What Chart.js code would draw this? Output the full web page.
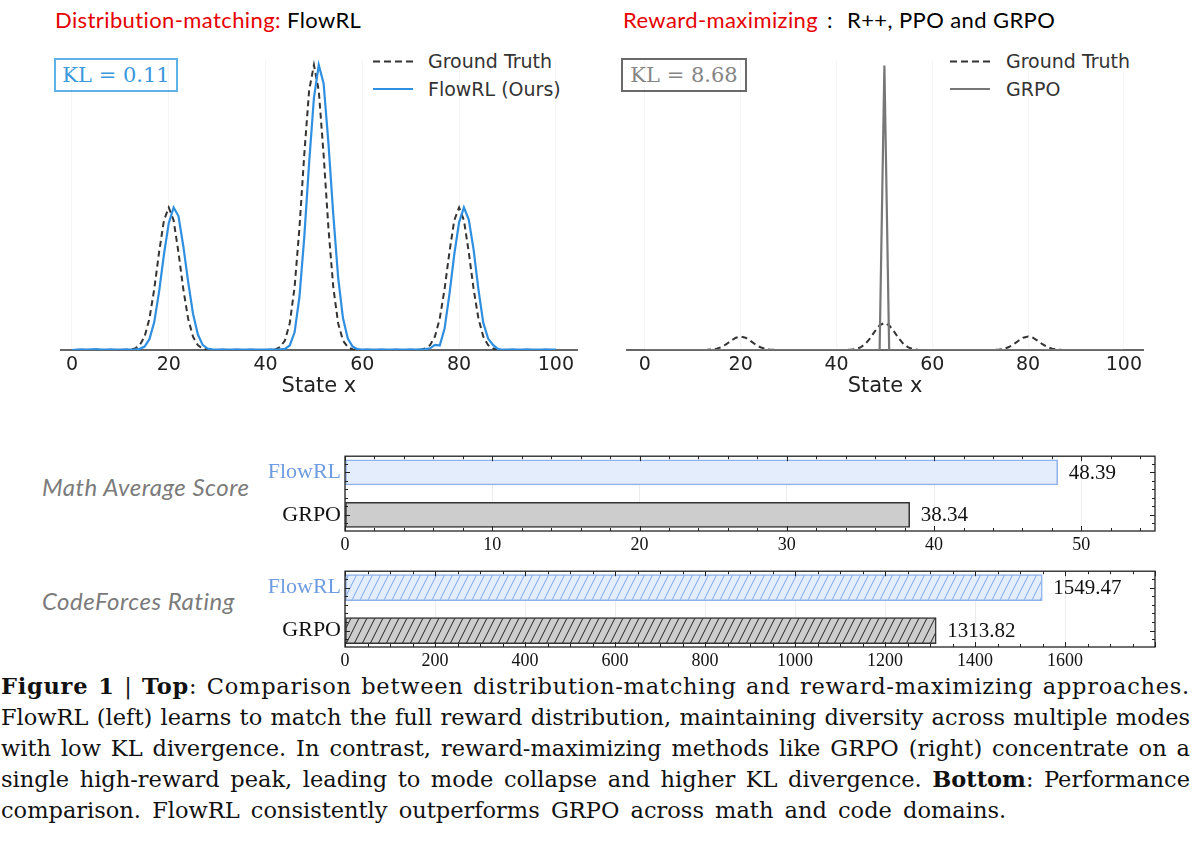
<!DOCTYPE html>
<html>
<head>
<meta charset="utf-8">
<script src="https://cdn.jsdelivr.net/npm/chart.js@4.4.1/dist/chart.umd.min.js"></script>
<style>
  body { margin: 0; background: #fff; }
  #fig { position: relative; width: 1200px; height: 843px; overflow: hidden; background: #fff; }
  #fig canvas, .abs { position: absolute; }
  .title { font-family: Lato, 'Open Sans', sans-serif; font-size: 22px; letter-spacing: 0.4px; white-space: nowrap; color: #000; }
  .red { color: #e60000; }
  .colon { margin: 0 14px 0 9px; }
  .kl { font-family: 'DejaVu Serif', serif; font-size: 21px; border: 2px solid; box-sizing: border-box;
        text-align: center; line-height: 30px; white-space: nowrap; }
  .leg { font-family: 'DejaVu Sans', sans-serif; font-size: 19px; line-height: 22px; color: #333; white-space: nowrap; }
  .side { font-family: Lato, sans-serif; font-style: italic; font-size: 24px; letter-spacing: 0.5px; line-height: 26px; color: #7b7b7b; white-space: nowrap; }
  .cap { font-family: 'DejaVu Serif', serif; font-size: 22.5px; line-height: 31px; color: #111; }
  .cap div { text-align: justify; text-align-last: justify; }
  .cap div.first { letter-spacing: 0.75px; }
  .cap div.last { text-align-last: left; word-spacing: 4px; }
</style>
</head>
<body>
<div id="fig">
  <!-- top panels -->
  <div class="abs title" style="left:55px;top:6px"><span class="red">Distribution-matching:</span> FlowRL</div>
  <div class="abs title" style="left:623px;top:6px"><span class="red">Reward-maximizing</span><span class="colon">:</span>R++, PPO and GRPO</div>

  <div class="abs kl" style="left:54px;top:58px;width:124px;height:34px;color:#3a98dc;border-color:#5db3e6">KL = 0.11</div>
  <div class="abs kl" style="left:621px;top:58px;width:126px;height:34px;color:#858585;border-color:#6a6a6a">KL = 8.68</div>

  <svg class="abs" style="left:370px;top:55px" width="50" height="40">
    <line x1="3" y1="6.5" x2="43" y2="6.5" stroke="#333" stroke-width="2" stroke-dasharray="7,4"/>
    <line x1="3" y1="34" x2="43" y2="34" stroke="#2f8fe0" stroke-width="2.2"/>
  </svg>
  <div class="abs leg" style="left:428px;top:50px">Ground Truth</div>
  <div class="abs leg" style="left:428px;top:78px">FlowRL (Ours)</div>

  <svg class="abs" style="left:947px;top:55px" width="50" height="40">
    <line x1="3" y1="6.5" x2="43" y2="6.5" stroke="#333" stroke-width="2" stroke-dasharray="7,4"/>
    <line x1="3" y1="34" x2="43" y2="34" stroke="#777" stroke-width="2.2"/>
  </svg>
  <div class="abs leg" style="left:1006px;top:50px">Ground Truth</div>
  <div class="abs leg" style="left:1006px;top:78px">GRPO</div>

  <canvas id="flowChart" width="518" height="357" style="left:60px;top:40px"></canvas>
  <canvas id="grpoChart" width="520" height="357" style="left:626px;top:40px"></canvas>

  <!-- bottom panels -->
  <div class="abs side" style="left:42px;top:474px">Math Average Score</div>
  <div class="abs side" style="left:42px;top:588px">CodeForces Rating</div>
  <canvas id="mathChart" width="902" height="116" style="left:255px;top:439px"></canvas>
  <canvas id="codeChart" width="902" height="117" style="left:255px;top:554px"></canvas>

  <div class="abs cap" style="left:1px;top:671px;width:1189px">
    <div class="first"><b>Figure 1</b> | <b>Top</b>: Comparison between distribution-matching and reward-maximizing approaches.</div>
    <div>FlowRL (left) learns to match the full reward distribution, maintaining diversity across multiple modes</div>
    <div>with low KL divergence. In contrast, reward-maximizing methods like GRPO (right) concentrate on a</div>
    <div>single high-reward peak, leading to mode collapse and higher KL divergence. <b>Bottom</b>: Performance</div>
    <div class="last">comparison. FlowRL consistently outperforms GRPO across math and code domains.</div>
  </div>
</div>

<script>
// ─── Data ─────────────────────────────────────────────────────────────────────
const states = Array.from({ length: 101 }, (_, i) => i);
const stateTicks = [0, 20, 40, 60, 80, 100];

const groundTruth = [
  0, 0, 0, 0, 0, 0, 0, 0, 0, 0,
  0, 0, 0.0001, 0.0005, 0.0017, 0.0047, 0.0110, 0.0214, 0.0343, 0.0455,
  0.0500, 0.0455, 0.0343, 0.0214, 0.0110, 0.0047, 0.0017, 0.0005, 0.0001, 0,
  0, 0, 0, 0, 0, 0, 0, 0, 0, 0,
  0, 0, 0.0002, 0.0010, 0.0033, 0.0094, 0.0220, 0.0427, 0.0685, 0.0910,
  0.1000, 0.0910, 0.0685, 0.0427, 0.0220, 0.0094, 0.0033, 0.0010, 0.0002, 0,
  0, 0, 0, 0, 0, 0, 0, 0, 0, 0,
  0, 0, 0.0001, 0.0005, 0.0017, 0.0047, 0.0110, 0.0214, 0.0343, 0.0455,
  0.0500, 0.0455, 0.0343, 0.0214, 0.0110, 0.0047, 0.0017, 0.0005, 0.0001, 0,
  0, 0, 0, 0, 0, 0, 0, 0, 0, 0, 0
];

const flowRL = [
  0, 0.0001, 0.0002, 0.0001, 0.0002, 0.0003, 0.0001, 0.0001, 0.0002, 0.0001,
  0.0001, 0.0002, 0.0001, 0.0002, 0.0004, 0.0012, 0.0038, 0.0098, 0.0205, 0.0335,
  0.0445, 0.0500, 0.0470, 0.0365, 0.0240, 0.0128, 0.0055, 0.0018, 0.0005, 0.0002,
  0.0001, 0.0002, 0.0001, 0.0001, 0.0002, 0.0001, 0.0001, 0.0002, 0.0001, 0.0001,
  0.0001, 0.0002, 0.0001, 0.0002, 0.0004, 0.0016, 0.0062, 0.0185, 0.0395, 0.0655,
  0.0885, 0.1000, 0.0935, 0.0725, 0.0475, 0.0255, 0.0112, 0.0040, 0.0012, 0.0003,
  0.0001, 0.0002, 0.0001, 0.0001, 0.0002, 0.0001, 0.0001, 0.0002, 0.0001, 0.0001,
  0.0002, 0.0001, 0.0002, 0.0003, 0.0006, 0.0018, 0.0016, 0.0075, 0.0195, 0.0335,
  0.0448, 0.0500, 0.0458, 0.0352, 0.0212, 0.0095, 0.0040, 0.0018, 0.0004, 0.0001,
  0.0001, 0.0002, 0.0001, 0.0001, 0.0002, 0.0001, 0.0001, 0.0001, 0.0002, 0.0001, 0.0001
];

// GRPO collapses onto the single state x = 50
const grpoStates = [0, 49, 50, 51, 100];
const grpoValues = [0, 0, 1.05, 0, 0];

const methods = ['FlowRL', 'GRPO'];
const mathScores = [48.39, 38.34];
const codeRatings = [1549.47, 1313.82];
const mathTicks = [0, 10, 20, 30, 40, 50];
const codeTicks = [0, 200, 400, 600, 800, 1000, 1200, 1400, 1600];

Chart.defaults.font.family = 'DejaVu Sans';

// ─── Top: density curves ──────────────────────────────────────────────────────
const toPoints = (xs, ys) => xs.map((x, i) => ({ x, y: ys[i] }));

function densityChart(id, datasets, xMin, xMax, yMax) {
  return new Chart(document.getElementById(id), {
    type: 'line',
    data: { datasets },
    options: {
      responsive: false,
      animation: false,
      layout: { padding: { top: 20, left: 0, right: 0, bottom: 0 } },
      plugins: { legend: { display: false }, tooltip: { enabled: false } },
      elements: { point: { radius: 0 }, line: { tension: 0 } },
      scales: {
        x: {
          type: 'linear', min: xMin, max: xMax,
          afterBuildTicks: s => { s.ticks = stateTicks.map(v => ({ value: v })); },
          afterFit: s => { s.height = 47; },
          grid: { color: 'rgba(0,0,0,0.04)', drawTicks: false },
          border: { color: '#666', width: 2 },
          ticks: { color: '#222', padding: 4, font: { size: 19 } },
          title: { display: true, text: 'State x', color: '#222', padding: 0, font: { size: 21, lineHeight: 1 } }
        },
        y: { display: false, min: 0, max: yMax }
      }
    }
  });
}

densityChart('flowChart', [
  { data: toPoints(states, flowRL), borderColor: '#2f8fe0', borderWidth: 2.2 },
  { data: toPoints(states, groundTruth), borderColor: '#333', borderWidth: 2, borderDash: [6, 4] }
], -2.48, 104.55, 0.10175);

densityChart('grpoChart', [
  { data: toPoints(grpoStates, grpoValues), borderColor: '#777', borderWidth: 2.2 },
  { data: toPoints(states, groundTruth), borderColor: '#333', borderWidth: 2, borderDash: [6, 4] }
], -3.95, 104.2, 1.07);

// ─── Bottom: horizontal bars ──────────────────────────────────────────────────
function hatch(bg, fg) {
  const c = document.createElement('canvas');
  c.width = 8; c.height = 16;
  const g = c.getContext('2d');
  g.fillStyle = bg; g.fillRect(0, 0, 8, 16);
  g.strokeStyle = fg; g.lineWidth = 1;
  [-8, 0, 8].forEach(o => { g.beginPath(); g.moveTo(o, 16); g.lineTo(o + 8, 0); g.stroke(); });
  return g.createPattern(c, 'repeat');
}

function framePlugin(xMinor, perMajor) {
  return {
    id: 'frame',
    afterDatasetsDraw(chart) {
      const { ctx, chartArea: a, scales: { x, y } } = chart;
      ctx.save();
      ctx.strokeStyle = '#222';
      ctx.lineWidth = 1;
      const seg = (x1, y1, x2, y2) => { ctx.beginPath(); ctx.moveTo(x1, y1); ctx.lineTo(x2, y2); ctx.stroke(); };
      for (let i = 0; i * xMinor <= x.max; i++) {
        const px = Math.round(x.getPixelForValue(i * xMinor)) + 0.5;
        const len = i % perMajor === 0 ? 5 : 3;
        seg(px, a.bottom, px, a.bottom - len);
        seg(px, a.top, px, a.top + len);
      }
      for (let k = -1; k <= 6; k++) {
        const py = Math.round(y.getPixelForValue(k * 0.2)) + 0.5;
        const len = k % 5 === 0 ? 5 : 3;
        seg(a.left, py, a.left + len, py);
        seg(a.right, py, a.right - len, py);
      }
      ctx.lineWidth = 1.3;
      ctx.strokeRect(a.left, a.top, a.right - a.left, a.bottom - a.top);
      ctx.restore();
    }
  };
}

const valueLabels = {
  id: 'valueLabels',
  afterDatasetsDraw(chart) {
    const { ctx } = chart;
    const ds = chart.data.datasets[0];
    ctx.save();
    ctx.fillStyle = '#111';
    ctx.font = '21px "Liberation Serif"';
    ctx.textBaseline = 'middle';
    chart.getDatasetMeta(0).data.forEach((bar, i) => {
      ctx.fillText(ds.data[i].x.toFixed(2), bar.x + 11, bar.y + 1);
    });
    ctx.restore();
  }
};

function barChart(id, values, fills, borders, axisMax, tickVals, xMinor, perMajor, thickness) {
  return new Chart(document.getElementById(id), {
    type: 'bar',
    data: {
      datasets: [{
        data: values.map((v, i) => ({ x: v, y: i })),
        backgroundColor: fills,
        borderColor: borders,
        borderWidth: 1.5,
        borderSkipped: false,
        barThickness: thickness
      }]
    },
    options: {
      indexAxis: 'y',
      responsive: false,
      animation: false,
      layout: { padding: { top: 2, right: 2, left: 0, bottom: 0 } },
      plugins: { legend: { display: false }, tooltip: { enabled: false } },
      scales: {
        x: {
          type: 'linear', min: 0, max: axisMax,
          afterBuildTicks: s => { s.ticks = tickVals.map(v => ({ value: v })); },
          afterFit: s => { s.height = 24; },
          grid: { color: '#ececec', drawTicks: false },
          border: { display: false },
          ticks: { color: '#111', padding: 3, callback: v => String(v), font: { family: 'Liberation Serif', size: 18 } }
        },
        y: {
          type: 'linear', reverse: true, offset: false, min: -0.38, max: 1.38,
          afterBuildTicks: s => { s.ticks = methods.map((_, i) => ({ value: i })); },
          afterFit: s => { s.width = 90; },
          grid: { display: false, drawTicks: false, offset: false },
          border: { display: false },
          ticks: {
            padding: 4,
            callback: v => methods[v],
            color: c => (c.index === 0 ? '#6e9ce0' : '#111'),
            font: { family: 'Liberation Serif', size: 22 }
          }
        }
      }
    },
    plugins: [framePlugin(xMinor, perMajor), valueLabels]
  });
}

barChart('mathChart', mathScores, ['#e3edfc', '#cdcdcd'], ['#8fb2e8', '#333'],
  55, mathTicks, 2, 5, 25);
barChart('codeChart', codeRatings,
  [hatch('#e3edfc', '#7fa6e6'), hatch('#cdcdcd', '#222')], ['#8fb2e8', '#333'],
  1800, codeTicks, 50, 4, 26);
</script>
</body>
</html>
